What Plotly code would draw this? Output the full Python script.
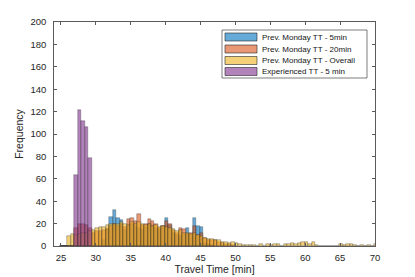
import numpy as np
import plotly.graph_objects as go

# ---- data: histogram counts, bins of 0.5 min starting at 24.9 min ----
bin_start = 24.9
bin_width = 0.5

prev_5min = [0, 0, 0, 0, 0, 0, 0, 0, 0, 0, 0, 0, 5, 15, 26, 32, 25, 23, 14, 18,
             20, 18, 16, 14, 17, 20, 18, 16, 14, 18, 25, 19, 12, 10, 9, 11, 16, 10, 25, 18,
             17, 3, 2, 1]
prev_20min = [0, 0, 0, 0, 16, 20, 20, 19, 16, 12, 13, 13, 14, 15, 18, 20, 18, 20, 17, 24,
              25, 22, 29, 19, 20, 24, 22, 20, 16, 18, 22, 20, 14, 12, 16, 15, 11, 12, 18, 10,
              12, 7, 5, 5, 5, 4, 3, 2, 2, 1]
prev_overall = [0, 0, 9, 11, 10, 11, 12, 12, 13, 14, 16, 17, 17, 19, 20, 20, 20, 21, 20, 19,
                21, 20, 21, 20, 19, 20, 18, 19, 17, 18, 17, 16, 15, 13, 14, 12, 12, 11, 12, 10,
                9, 7, 6, 6, 5, 5, 4, 4, 3, 4, 3, 2, 1, 1, 1, 1, 0, 2, 0, 2,
                1, 2, 2, 0, 2, 2, 3, 2, 3, 4, 4, 2, 4, 1, 0, 0, 0, 0, 0, 0,
                2, 1, 2, 2, 1, 0, 1, 0, 1, 0, 2]
experienced_5min = [0, 0, 0, 0, 63, 121, 112, 106, 79]

series_names = ["Prev. Monday TT - 5min", "Prev. Monday TT - 20min",
                "Prev. Monday TT - Overall", "Experienced TT - 5 min"]
series_values = [prev_5min, prev_20min, prev_overall, experienced_5min]
series_colors = ["rgba(0,114,189,0.6)", "rgba(217,83,25,0.6)",
                 "rgba(237,177,32,0.6)", "rgba(126,47,142,0.6)"]

x_ticks = [25, 30, 35, 40, 45, 50, 55, 60, 65, 70]
y_ticks = [0, 20, 40, 60, 80, 100, 120, 140, 160, 180, 200]

fig = go.Figure()
for name, vals, col in zip(series_names, series_values, series_colors):
    left = bin_start + bin_width * np.arange(len(vals))
    fig.add_trace(go.Bar(
        x=left, y=vals, width=bin_width, offset=0, name=name,
        marker=dict(color=col, line=dict(color="rgba(38,38,38,0.6)", width=0.5)),
        showlegend=False, cliponaxis=True,
    ))

# ---- layout geometry (pixels) ----
W, H = 415, 277
L, R, T, B = 54, 40, 22, 31
pw, ph = W - L - R, H - T - B

def px(x):
    return (x - L) / pw

def py(y):
    return (H - B - y) / ph

shapes = []
annotations = []
# legend box
shapes.append(dict(type="rect", xref="paper", yref="paper",
                   x0=px(222), x1=px(367), y0=py(78), y1=py(30),
                   line=dict(color="rgb(38,38,38)", width=0.6), fillcolor="white", layer="above"))
row_centers = [37, 49, 60.5, 71.5]
for name, col, yc in zip(series_names, series_colors, row_centers):
    shapes.append(dict(type="rect", xref="paper", yref="paper",
                       x0=px(225), x1=px(257), y0=py(yc + 4), y1=py(yc - 4),
                       line=dict(color="rgb(38,38,38)", width=0.6), fillcolor=col, layer="above"))
    annotations.append(dict(xref="paper", yref="paper", x=px(260), y=py(yc),
                            xanchor="left", yanchor="middle", text=name, showarrow=False,
                            font=dict(size=8, color="rgb(20,20,20)")))

axis_common = dict(showline=True, linecolor="rgb(90,90,90)", linewidth=0.6, mirror="ticks",
                   ticks="inside", ticklen=3, tickcolor="rgb(90,90,90)", tickwidth=0.6,
                   showgrid=False, zeroline=False, automargin=False,
                   tickfont=dict(size=9.5, color="rgb(38,38,38)"))

fig.update_layout(
    width=W, height=H,
    margin=dict(l=L, r=R, t=T, b=B, pad=0, autoexpand=False),
    paper_bgcolor="white", plot_bgcolor="white",
    barmode="overlay", bargap=0,
    font=dict(family="Liberation Sans, Arial, sans-serif", color="rgb(38,38,38)"),
    xaxis=dict(range=[24, 70], tickvals=x_ticks, ticklabelstandoff=3,
               title=dict(text="Travel Time [min]", font=dict(size=10.5), standoff=2),
               **axis_common),
    yaxis=dict(range=[0, 200], tickvals=y_ticks, ticklabelstandoff=5,
               title=dict(text="Frequency", font=dict(size=10.5), standoff=4),
               **axis_common),
    shapes=shapes, annotations=annotations,
)

fig.write_html("out.html", config={"displayModeBar": False},
               post_script="document.body.style.margin='0';")
